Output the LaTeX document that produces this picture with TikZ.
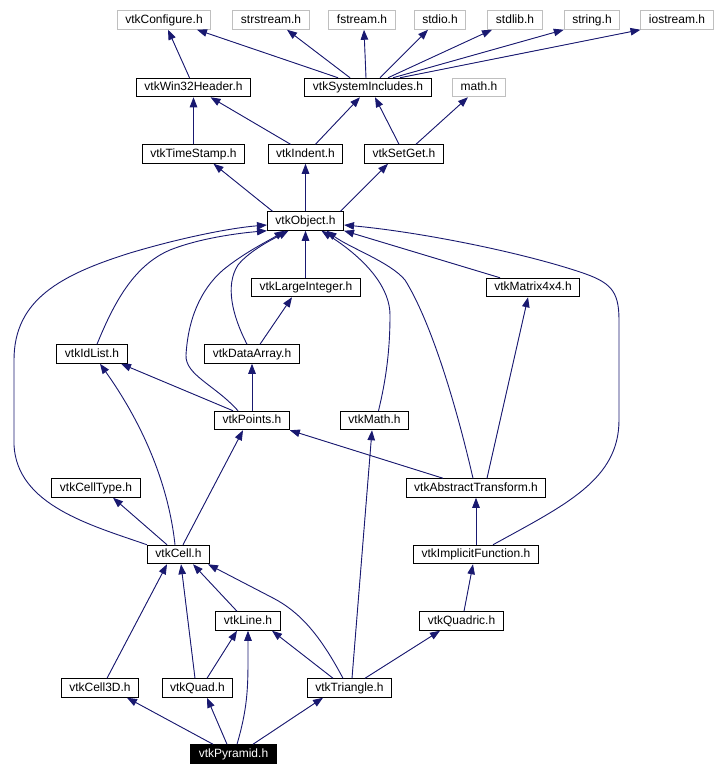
\documentclass[tikz,border=0pt]{standalone}
\usepackage{fontspec}
\setmainfont{Liberation Sans}
\usepackage{xcolor}
\usepackage{tikz}
\usetikzlibrary{arrows.meta}
\definecolor{navy}{HTML}{191970}
\definecolor{extgray}{HTML}{BFBFBF}

\begin{document}
\begin{tikzpicture}[
  x=1pt,y=-1pt,
  hbox/.style={rectangle,draw=black,line width=1pt,fill=white,inner xsep=8pt,inner ysep=3.5pt,
               text height=9pt,text depth=2.5pt,font=\fontsize{12}{13}\selectfont},
  sbox/.style={hbox,draw=extgray},
  cbox/.style={hbox,fill=black,text=white},
  dep/.style={->,>={Triangle[length=10pt,width=7.5pt]},draw=navy,fill=navy,line width=0.9pt},
  curv/.style={->,>={Triangle[length=10pt,width=7.5pt]},draw=navy,line width=0.9pt}
]
\useasboundingbox (0,0) rectangle (714,776);
\node[sbox] (cfg)    at (164,20)    {vtkConfigure.h};
\node[sbox] (strs)   at (271,20)    {strstream.h};
\node[sbox] (fstr)   at (362,20)    {fstream.h};
\node[sbox] (stdio)  at (440,20)    {stdio.h};
\node[sbox] (stdl)   at (515,20)    {stdlib.h};
\node[sbox] (strg)   at (592,20)    {string.h};
\node[sbox] (iostr)  at (677,20)    {iostream.h};
\node[hbox] (win)    at (193.5,87.5) {vtkWin32Header.h};
\node[hbox] (sysinc) at (368,87.5)  {vtkSystemIncludes.h};
\node[sbox] (mathh)  at (479,87.5)  {math.h};
\node[hbox] (tstamp) at (193.5,154) {vtkTimeStamp.h};
\node[hbox] (indent) at (305.5,154) {vtkIndent.h};
\node[hbox] (setget) at (404,154)   {vtkSetGet.h};
\node[hbox] (obj)    at (305.5,221) {vtkObject.h};
\node[hbox] (lint)   at (306,287.5) {vtkLargeInteger.h};
\node[hbox] (mat)    at (533,287.5) {vtkMatrix4x4.h};
\node[hbox] (idl)    at (92,354)    {vtkIdList.h};
\node[hbox] (darr)   at (252,354)   {vtkDataArray.h};
\node[hbox] (pts)    at (252,420.5) {vtkPoints.h};
\node[hbox] (vmath)  at (374.5,420.5) {vtkMath.h};
\node[hbox] (ctype)  at (96,488)    {vtkCellType.h};
\node[hbox] (atrans) at (476,488)   {vtkAbstractTransform.h};
\node[hbox] (cell)   at (178.5,554.5) {vtkCell.h};
\node[hbox] (impl)   at (476,554.5) {vtkImplicitFunction.h};
\node[hbox] (line)   at (248,621)   {vtkLine.h};
\node[hbox] (quadric) at (461.5,621) {vtkQuadric.h};
\node[hbox] (c3d)    at (100,688)   {vtkCell3D.h};
\node[hbox] (quad)   at (197.5,688) {vtkQuad.h};
\node[hbox] (tri)    at (349.5,688) {vtkTriangle.h};
\node[cbox] (pyr)    at (233.5,754) {vtkPyramid.h};

\draw[dep]([xshift=-4]win.north)--([xshift=4]cfg.south);
\draw[dep]([xshift=-30]sysinc.north)--([xshift=33]cfg.south);
\draw[dep]([xshift=-18]sysinc.north)--([xshift=16]strs.south);
\draw[dep]([xshift=-2]sysinc.north)--([xshift=2]fstr.south);
\draw[dep]([xshift=12]sysinc.north)--([xshift=-12]stdio.south);
\draw[dep]([xshift=20]sysinc.north)--([xshift=-23]stdl.south);
\draw[dep]([xshift=25]sysinc.north)--(strg.south west);
\draw[dep]([xshift=32]sysinc.north)--(iostr.south west);
\draw[dep](tstamp.north)--(win.south);
\draw[dep]([xshift=-15]indent.north)--([xshift=17]win.south);
\draw[dep]([xshift=10]indent.north)--([xshift=-8]sysinc.south);
\draw[dep]([xshift=-5]setget.north)--([xshift=7]sysinc.south);
\draw[dep]([xshift=12]setget.north)--([xshift=-11]mathh.south);
\draw[dep]([xshift=-33]obj.north)--([xshift=20]tstamp.south);
\draw[dep](obj.north)--(indent.south);
\draw[dep]([xshift=35]obj.north)--([xshift=-16]setget.south);
\draw[dep]([xshift=-0.5]lint.north)--(obj.south);
\draw[dep]([xshift=-33]mat.north)--(obj.south east);
\draw[curv]([xshift=17]impl.north) .. controls (565,505) and (619,480) .. (619,420) -- (619,320)
  .. controls (619,290) and (610,282) .. (580,272) .. controls (520,252) and (420,232) .. ([yshift=-4]obj.east);
\draw[curv]([xshift=-3]atrans.north) .. controls (455,400) and (430,320) .. (405,280)
  .. controls (390,262) and (350,248) .. ([xshift=21]obj.south);
\draw[curv]([xshift=4]vmath.north) .. controls (386,380) and (390,350) .. (390,315)
  .. controls (390,290) and (370,262) .. ([xshift=16]obj.south);
\draw[dep]([xshift=11]atrans.north)--([xshift=-5]mat.south);
\draw[dep]([xshift=-33]atrans.north)--(pts.south east);
\draw[dep](impl.north)--(atrans.south);
\draw[dep]([xshift=2.5]quadric.north)--([xshift=-3]impl.south);
\draw[curv]([xshift=5]idl.north) .. controls (115,300) and (135,265) .. (170,250)
  .. controls (200,238) and (240,233) .. (obj.south west);
\draw[curv](cell.north west) .. controls (90,525) and (17,505) .. (14,445) -- (14,360)
  .. controls (14,300) and (60,275) .. (130,253) .. controls (180,238) and (230,228) .. ([yshift=-4]obj.west);
\draw[curv]([xshift=-3.5]cell.north) .. controls (168,480) and (140,420) .. ([xshift=8]idl.south);
\draw[dep]([xshift=4.5]cell.north)--([xshift=-9]pts.south);
\draw[dep]([xshift=-11.5]cell.north)--([xshift=17]ctype.south);
\draw[dep]([xshift=-19]pts.north)--([xshift=29]idl.south);
\draw[curv]([xshift=-14]pts.north) .. controls (215,385) and (185,375) .. (186,355)
  .. controls (188,320) and (200,290) .. (223,270) .. controls (245,252) and (270,240) .. ([xshift=-21]obj.south);
\draw[curv]([xshift=-5]darr.north) .. controls (232,315) and (225,285) .. (238,265)
  .. controls (250,250) and (275,238) .. ([xshift=-17]obj.south);
\draw[dep]([xshift=8]darr.north)--([xshift=-14]lint.south);
\draw[dep](pts.north)--(darr.south);
\draw[dep]([xshift=2.5]tri.north)--([xshift=-2.5]vmath.south);
\draw[dep]([xshift=-11]line.north)--([xshift=14.5]cell.south);
\draw[dep]([xshift=7]c3d.north)--([xshift=-11.5]cell.south);
\draw[dep]([xshift=-2.5]quad.north)--([xshift=2.5]cell.south);
\draw[dep]([xshift=9.5]quad.north)--([xshift=-11]line.south);
\draw[curv]([xshift=-6.5]tri.north) .. controls (320,635) and (300,612) .. (273,598) -- ([xshift=-2]cell.south east);
\draw[dep]([xshift=-16.5]tri.north)--([xshift=24]line.south);
\draw[dep]([xshift=15.5]tri.north)--([xshift=-21.5]quadric.south);
\draw[dep]([xshift=-20.5]pyr.north)--([xshift=27]c3d.south);
\draw[dep]([xshift=-6.5]pyr.north)--([xshift=9.5]quad.south);
\draw[curv]([xshift=3.5]pyr.north) .. controls (247,710) and (248,690) .. (248,660) -- (line.south);
\draw[dep]([xshift=19.5]pyr.north)--([xshift=-26.5]tri.south);
\end{tikzpicture}
\end{document}
